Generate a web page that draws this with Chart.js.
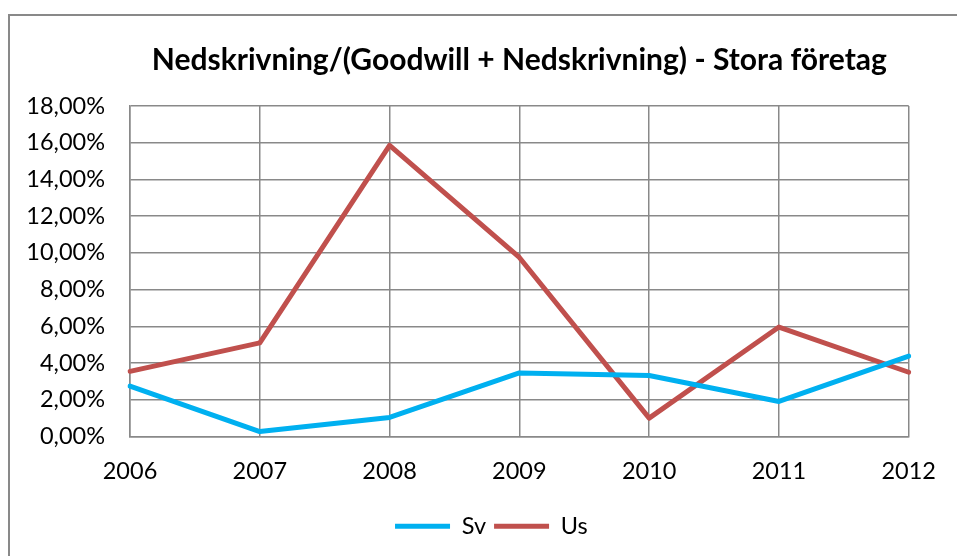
<!DOCTYPE html>
<html>
<head>
<meta charset="utf-8">
<script src="https://cdn.jsdelivr.net/npm/chart.js@4/dist/chart.umd.min.js"></script>
<style>
  html, body { margin: 0; padding: 0; background: #fff; }
  #wrap { position: relative; width: 957px; height: 556px; overflow: hidden; }
  #frame { position: absolute; left: 8px; top: 14px; width: 1000px; height: 600px; border: 2px solid #898989; box-sizing: border-box; }
  canvas { position: absolute; left: 0; top: 0; }
</style>
</head>
<body>
<div id="wrap">
  <div id="frame"></div>
  <canvas id="chart" width="957" height="556"></canvas>
</div>
<script>
// Nedskrivning/(Goodwill + Nedskrivning) - Stora företag
const years = ['2006', '2007', '2008', '2009', '2010', '2011', '2012'];
const sv = [2.74, 0.27, 1.04, 3.46, 3.32, 1.91, 4.38];
const us = [3.55, 5.10, 15.86, 9.75, 1.00, 5.96, 3.50];
const yTicks = [0, 2, 4, 6, 8, 10, 12, 14, 16, 18];

const font = 'Lato, Calibri, Carlito, sans-serif';
const gridColor = '#898989';

// nudge the legend a bit left, like the original sits
const legendShift = {
  id: 'legendShift',
  afterLayout(chart) {
    chart.legend.left -= 28;
    chart.legend.right -= 28;
  }
};

const ctx = document.getElementById('chart').getContext('2d');
const chart = new Chart(ctx, {
  type: 'line',
  data: {
    labels: years,
    datasets: [{
      label: 'Sv',
      data: sv,
      borderColor: '#00B0F0',
      backgroundColor: '#00B0F0',
      borderWidth: 5,
      borderCapStyle: 'round',
      borderJoinStyle: 'round',
      pointRadius: 0,
      tension: 0
    }, {
      label: 'Us',
      data: us,
      borderColor: '#C0504D',
      backgroundColor: '#C0504D',
      borderWidth: 5,
      borderCapStyle: 'round',
      borderJoinStyle: 'round',
      pointRadius: 0,
      tension: 0
    }]
  },
  options: {
    responsive: false,
    animation: false,
    layout: { padding: { left: 0, right: 44, top: 0, bottom: 8 } },
    plugins: {
      title: {
        display: true,
        text: 'Nedskrivning/(Goodwill + Nedskrivning) - Stora företag',
        color: '#000',
        fullSize: false,
        font: { family: font, size: 30, weight: 'bold', lineHeight: 1.2 },
        padding: { top: 42, bottom: 28 }
      },
      legend: {
        position: 'bottom',
        fullSize: false,
        labels: {
          usePointStyle: true,
          pointStyle: 'line',
          pointStyleWidth: 55,
          color: '#000',
          padding: 8,
          font: { family: font, size: 23.5 }
        }
      },
      tooltip: { enabled: false }
    },
    scales: {
      x: {
        offset: false,
        afterFit: (s) => { s.height = 70; },
        grid: { color: gridColor, lineWidth: 1.5, drawTicks: false },
        border: { color: gridColor, width: 1.5 },
        ticks: { color: '#000', padding: 21, maxRotation: 0, font: { family: font, size: 23.5 } }
      },
      y: {
        min: 0,
        max: 18,
        afterFit: (s) => { s.width = 130; },
        afterBuildTicks: (s) => { s.ticks = yTicks.map(v => ({ value: v })); },
        grid: { color: gridColor, lineWidth: 1.5, drawTicks: false },
        border: { color: gridColor, width: 1.5 },
        ticks: {
          color: '#000',
          padding: 25,
          font: { family: font, size: 23.5 },
          callback: (v) => v.toFixed(2).replace('.', ',') + '%'
        }
      }
    }
  },
  plugins: [legendShift]
});
</script>
</body>
</html>
